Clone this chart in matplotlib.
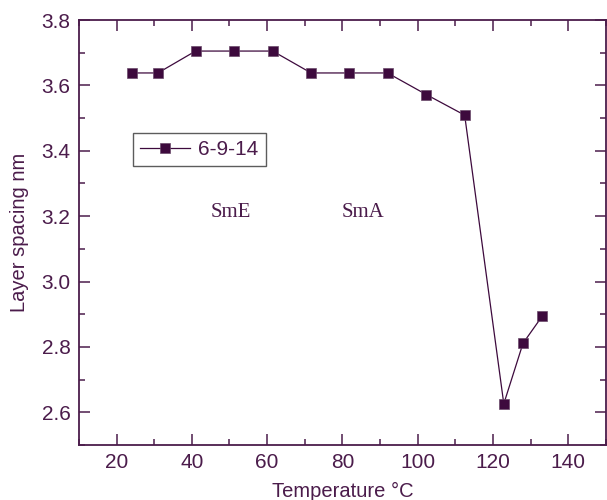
import matplotlib
matplotlib.use("Agg")
import matplotlib.pyplot as plt
from matplotlib.ticker import MultipleLocator

# температура и межслоевое расстояние
temperature = [24, 31, 41, 51.3, 61.5, 71.7, 81.8, 92, 102.3, 112.5, 122.9, 128, 133.1]
spacing = [3.638, 3.638, 3.705, 3.705, 3.705, 3.638, 3.638, 3.638, 3.572, 3.509, 2.626, 2.811, 2.894]
series_name = "6-9-14"

phases = ["SmE", "SmA"]
phase_x = [45.0, 79.8]
phase_y = [3.21, 3.21]

axis_color = "#4b1c4b"
mark_color = "#3d0a3d"

plt.rcParams["font.family"] = ["Liberation Sans", "DejaVu Sans"]

fig = plt.figure(figsize=(6.07, 5.0), dpi=100)
ax = fig.add_axes([0.130, 0.11, 0.868, 0.85])

ax.plot(temperature, spacing, color=mark_color, linewidth=0.9,
        marker="s", markersize=6.5, markerfacecolor=mark_color,
        markeredgecolor="#6a4a6a", markeredgewidth=0.5, label=series_name)

for name, px, py in zip(phases, phase_x, phase_y):
    ax.text(px, py, name, family=["Liberation Serif", "DejaVu Serif"],
            fontsize=15, color=axis_color, va="center", ha="left")

ax.set_xlim(10, 150)
ax.set_ylim(2.5, 3.8)
ax.xaxis.set_minor_locator(MultipleLocator(10))
ax.yaxis.set_minor_locator(MultipleLocator(0.1))
ax.set_xticks([20, 40, 60, 80, 100, 120, 140])
ax.set_yticks([2.6, 2.8, 3.0, 3.2, 3.4, 3.6, 3.8])
ax.yaxis.set_major_formatter(plt.FormatStrFormatter("%.1f"))

ax.tick_params(which="both", direction="in", top=True, right=True,
               color=axis_color, width=1.1, labelsize=15,
               labelcolor=axis_color, pad=6)
ax.tick_params(which="major", length=8)
ax.tick_params(which="minor", length=4)
for s in ax.spines.values():
    s.set_color(axis_color)
    s.set_linewidth(1.3)

ax.set_xlabel("Temperature \u00b0C", fontsize=14.5, color=axis_color, labelpad=7)
ax.set_ylabel("Layer spacing nm", fontsize=14.5, color=axis_color, labelpad=9)

leg = ax.legend(loc="upper left", bbox_to_anchor=(0.102, 0.735), fontsize=15,
                frameon=True, fancybox=False, handlelength=2.4,
                handletextpad=0.4, borderpad=0.35, borderaxespad=0)
leg.get_frame().set_edgecolor("#333333")
leg.get_frame().set_linewidth(1.0)
for t in leg.get_texts():
    t.set_color(axis_color)

fig.savefig("out.png", dpi=100)
